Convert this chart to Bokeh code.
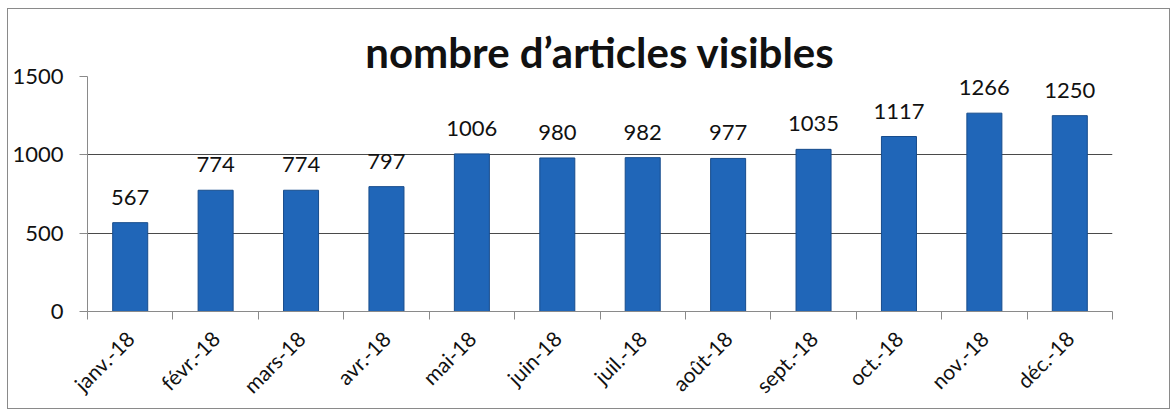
import math
from bokeh.plotting import figure
from bokeh.models import (Range1d, FixedTicker, ColumnDataSource, LabelSet)
from bokeh.core.properties import value
from bokeh.embed import file_html
from bokeh.resources import INLINE

# ---- data ----
categories = ["janv.-18", "févr.-18", "mars-18", "avr.-18", "mai-18", "juin-18",
              "juil.-18", "août-18", "sept.-18", "oct.-18", "nov.-18", "déc.-18"]
values = [567, 774, 774, 797, 1006, 980, 982, 977, 1035, 1117, 1266, 1250]
y_ticks = [0, 500, 1000, 1500]
title_text = "nombre d\u2019articles visibles"

n = len(categories)
xs = [i + 0.5 for i in range(n)]
src = ColumnDataSource(dict(x=xs, top=values, label=[str(v) for v in values]))

p = figure(width=1163, height=401, output_backend="svg", toolbar_location=None,
           x_range=Range1d(0, n), y_range=Range1d(0, 1500),
           min_border_left=79, min_border_right=59, min_border_top=67,
           min_border_bottom=99, background_fill_color="white",
           border_fill_color="white")
p.styles = {"border": "1px solid #8a8a8a", "margin-left": "7px", "margin-top": "8px"}
p.outline_line_color = None

# title
p.title.text = title_text
p.title.align = "center"
p.title.text_font = "Lato"
p.title.text_font_style = "bold"
p.title.text_font_size = "42px"
p.title.text_color = "#111111"
p.title.standoff = 0

# bars
p.vbar(x="x", top="top", width=0.41, bottom=0, source=src,
       fill_color="#2066b8", line_color="#174c8c", line_width=1)

# value labels
labels = LabelSet(x="x", y="top", text="label", source=src, y_offset=18,
                  text_align="center", text_baseline="alphabetic",
                  text_font=value("Lato"), text_font_size=value("22px"),
                  text_color="#111111")
p.add_layout(labels)

# grid
p.xgrid.visible = False
p.ygrid.ticker = FixedTicker(ticks=y_ticks[1:])
p.ygrid.grid_line_color = "#4a4a4a"
p.ygrid.grid_line_width = 1

# y axis
ya = p.yaxis[0]
ya.ticker = FixedTicker(ticks=y_ticks)
ya.axis_line_color = "#8a8a8a"
ya.major_tick_line_color = "#8a8a8a"
ya.major_tick_out = 8
ya.major_tick_in = 0
ya.minor_tick_line_color = None
ya.major_label_standoff = 16
ya.major_label_text_font = "Lato"
ya.major_label_text_font_size = "22px"
ya.major_label_text_color = "#111111"

# x axis
xa = p.xaxis[0]
xa.ticker = FixedTicker(ticks=xs, minor_ticks=list(range(n + 1)))
xa.major_label_overrides = {x: c for x, c in zip(xs, categories)}
xa.axis_line_color = "#8a8a8a"
xa.major_tick_line_color = None
xa.major_tick_out = 0
xa.major_tick_in = 0
xa.minor_tick_line_color = "#8a8a8a"
xa.minor_tick_out = 8
xa.minor_tick_in = 0
xa.major_label_orientation = math.pi / 4
xa.major_label_standoff = 15
xa.major_label_text_font = "Lato"
xa.major_label_text_font_size = "21px"
xa.major_label_text_color = "#111111"

open("out.html", "w").write(file_html(p, INLINE))
